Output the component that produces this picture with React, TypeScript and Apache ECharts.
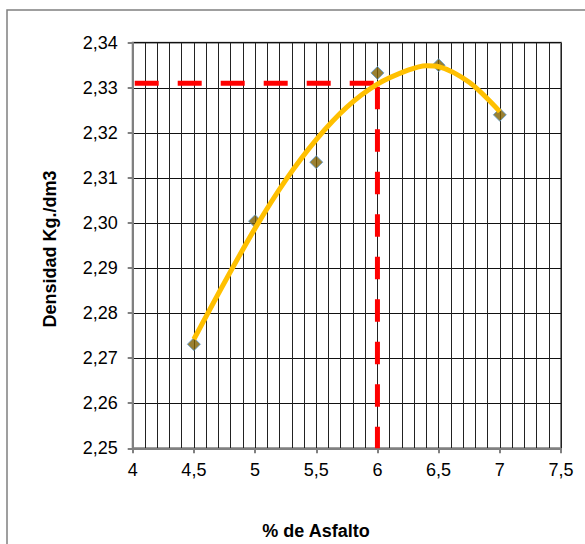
import React, { useEffect, useRef } from "react";
import * as echarts from "echarts";

const asphaltPct = [4.5, 5, 5.5, 6, 6.5, 7];
const density = [2.2731, 2.3004, 2.3135, 2.3333, 2.335, 2.324];

const trendX = [4.5, 4.75, 5, 5.25, 5.5, 5.75, 6, 6.25, 6.4, 6.5, 6.75, 7];
const trendY = [2.2742, 2.2868, 2.2988, 2.3095, 2.3185, 2.3257, 2.3308, 2.3339, 2.3349, 2.3347, 2.3312, 2.3247];

const optimumPct = 6;
const optimumDensity = 2.331;

const xMin = 4;
const xMax = 7.5;
const yMin = 2.25;
const yMax = 2.34;

const xTitle = "% de Asfalto";
const yTitle = "Densidad Kg./dm3";

export default function App() {
  const ref = useRef<HTMLDivElement>(null);
  useEffect(() => {
    if (!ref.current) return;
    const chart = echarts.init(ref.current, null, { renderer: "svg" });
    const font = "'Liberation Sans', Arial, sans-serif";
    chart.setOption({
      animation: false,
      backgroundColor: "#fff",
      grid: {
        left: 132.7,
        top: 42.7,
        right: 24,
        bottom: 95.7,
        show: true,
        borderColor: "#808080",
        borderWidth: 2,
      },
      xAxis: {
        type: "value",
        min: xMin,
        max: xMax,
        interval: 0.5,
        axisLine: { show: true, lineStyle: { color: "#808080", width: 2 } },
        axisTick: { show: true, length: 5, lineStyle: { color: "#808080", width: 2 } },
        axisLabel: {
          margin: 13,
          color: "#000",
          fontSize: 18,
          fontFamily: font,
          formatter: (v: number) => String(Math.round(v * 10) / 10).replace(".", ","),
        },
        splitLine: { show: true, lineStyle: { color: "#222", width: 1 } },
        minorTick: { show: false, splitNumber: 5 },
        minorSplitLine: { show: true, lineStyle: { color: "#222", width: 1 } },
      },
      yAxis: {
        type: "value",
        min: yMin,
        max: yMax,
        interval: 0.01,
        axisLine: { show: true, lineStyle: { color: "#808080", width: 2 } },
        axisTick: { show: true, length: 5, lineStyle: { color: "#808080", width: 2 } },
        axisLabel: {
          margin: 15,
          color: "#000",
          fontSize: 18,
          fontFamily: font,
          formatter: (v: number) => v.toFixed(2).replace(".", ","),
        },
        splitLine: { show: true, lineStyle: { color: "#111", width: 1 } },
      },
      graphic: [
        {
          type: "rect",
          silent: true,
          shape: { x: 7, y: 10, width: 700, height: 700 },
          style: { fill: "none", stroke: "#808080", lineWidth: 1.5 },
          z: 100,
        },
        {
          type: "text",
          x: 316,
          y: 531,
          style: {
            text: xTitle,
            fontSize: 18,
            fontWeight: "bold",
            fontFamily: font,
            fill: "#000",
            align: "center",
            verticalAlign: "middle",
          },
        },
        {
          type: "text",
          x: 50,
          y: 249,
          rotation: Math.PI / 2,
          style: {
            text: yTitle,
            fontSize: 18,
            fontWeight: "bold",
            fontFamily: font,
            fill: "#000",
            align: "center",
            verticalAlign: "middle",
          },
        },
      ],
      series: [
        {
          type: "line",
          z: 2,
          silent: true,
          symbol: "none",
          data: [
            [xMin, optimumDensity],
            [optimumPct, optimumDensity],
          ],
          lineStyle: { color: "#ff0000", width: 5, type: [24, 19], dashOffset: 40.7, cap: "butt" },
        },
        {
          type: "line",
          z: 2,
          silent: true,
          symbol: "none",
          data: [
            [optimumPct, optimumDensity],
            [optimumPct, yMin],
          ],
          lineStyle: { color: "#ff0000", width: 5, type: [22.5, 20], dashOffset: 39.2, cap: "butt" },
        },
        {
          type: "scatter",
          z: 3,
          silent: true,
          symbol: "diamond",
          symbolSize: 13,
          data: asphaltPct.map((x, i) => [x, density[i]]),
          itemStyle: { color: "#7f6000", borderColor: "#5b9bd5", borderWidth: 1 },
        },
        {
          type: "line",
          z: 4,
          silent: true,
          symbol: "none",
          smooth: 0.3,
          data: trendX.map((x, i) => [x, trendY[i]]),
          lineStyle: { color: "#ffc000", width: 5 },
        },
      ],
    });
    return () => chart.dispose();
  }, []);
  return <div ref={ref} style={{ width: 585, height: 544, position: "absolute", left: 0, top: 0 }} />;
}
